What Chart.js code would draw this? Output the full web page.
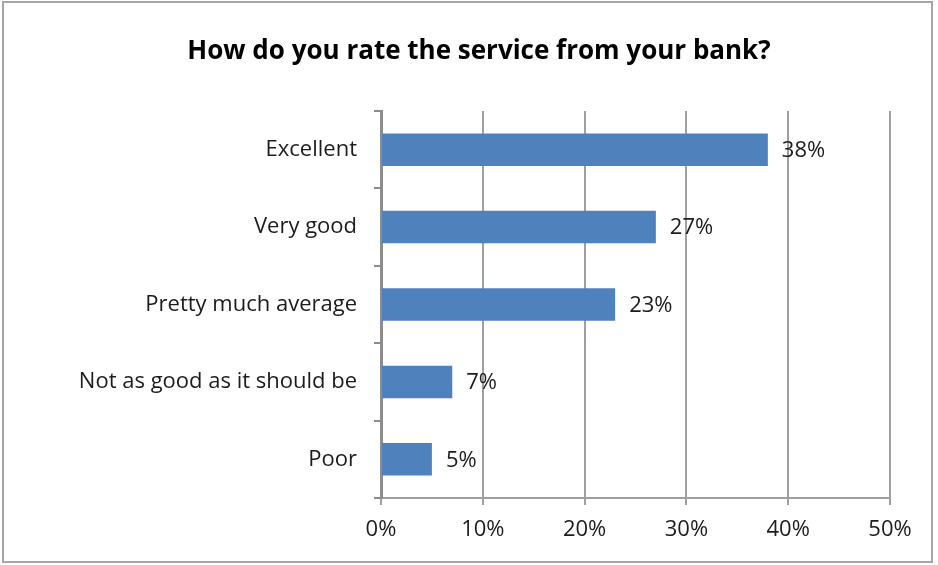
<!DOCTYPE html>
<html>
<head>
<meta charset="utf-8">
<title>Bank service rating</title>
<script src="https://cdn.jsdelivr.net/npm/chart.js@4/dist/chart.umd.min.js"></script>
<style>
  html, body { margin: 0; padding: 0; background: #fff; }
  #wrap { width: 938px; height: 565px; position: relative; }
</style>
</head>
<body>
<div id="wrap"><canvas id="ratingChart" width="938" height="565"></canvas></div>
<script>
// Survey answers, top to bottom
const categories = ['Excellent', 'Very good', 'Pretty much average', 'Not as good as it should be', 'Poor'];
const shares = [38, 27, 23, 7, 5];
const chartTitle = 'How do you rate the service from your bank?';
const FONT = '"Open Sans", "Noto Sans", sans-serif';
const TEXT_COLOR = '#1c1c1c';

// frame around the whole chart + title text
const framePlugin = {
  id: 'frame',
  beforeDraw(chart) {
    const c = chart.ctx;
    c.save();
    c.fillStyle = '#fff';
    c.fillRect(0, 0, chart.width, chart.height);
    c.strokeStyle = '#a6a6a6';
    c.lineWidth = 2;
    c.strokeRect(3, 2, 929, 560);
    c.restore();
  },
  afterDraw(chart) {
    const c = chart.ctx;
    c.save();
    c.font = 'bold 26px ' + FONT;
    c.fillStyle = '#000';
    c.textAlign = 'center';
    c.textBaseline = 'middle';
    c.fillText(chartTitle, 479, 52);
    c.restore();
  }
};

// value labels just past the end of each bar
const barLabels = {
  id: 'barLabels',
  afterDatasetsDraw(chart) {
    const c = chart.ctx;
    const meta = chart.getDatasetMeta(0);
    c.save();
    c.font = '22px ' + FONT;
    c.fillStyle = TEXT_COLOR;
    c.textAlign = 'left';
    c.textBaseline = 'middle';
    meta.data.forEach((bar, i) => {
      c.fillText(shares[i] + '%', bar.x + 14, bar.y + 1);
    });
    c.restore();
  }
};

new Chart(document.getElementById('ratingChart'), {
  type: 'bar',
  data: {
    labels: categories,
    datasets: [{
      data: shares,
      backgroundColor: '#4f81bd',
      borderWidth: 0,
      categoryPercentage: 1,
      barPercentage: 0.42
    }]
  },
  options: {
    indexAxis: 'y',
    responsive: false,
    animation: false,
    layout: { padding: { top: 111, right: 48, bottom: 12, left: 0 } },
    plugins: {
      legend: { display: false },
      title: { display: false },
      tooltip: { enabled: false }
    },
    scales: {
      x: {
        min: 0,
        max: 50,
        afterFit(axis) { axis.height = 55; },
        ticks: {
          stepSize: 10,
          padding: 12,
          color: TEXT_COLOR,
          font: { family: FONT, size: 22 },
          callback: v => v + '%'
        },
        grid: { color: '#a0a0a0', lineWidth: 2, tickLength: 7 },
        border: { color: '#a0a0a0', width: 2 }
      },
      y: {
        afterFit(axis) { axis.width = 381; },
        ticks: {
          padding: 17,
          color: TEXT_COLOR,
          font: { family: FONT, size: 22 }
        },
        grid: { drawOnChartArea: false, color: '#8c8c8c', lineWidth: 2, tickLength: 7 },
        border: { color: '#8c8c8c', width: 3 }
      }
    }
  },
  plugins: [framePlugin, barLabels]
});
</script>
</body>
</html>
